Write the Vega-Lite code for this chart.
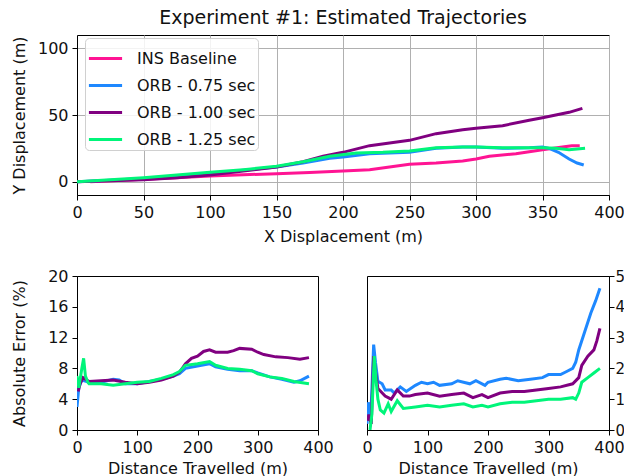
{
  "$schema": "https://vega.github.io/schema/vega-lite/v6.json",
  "padding": {"left": 10, "top": 8, "right": 0, "bottom": 0},
  "background": "white",
  "config": {
    "font": "DejaVu Sans",
    "view": {"stroke": "black", "strokeWidth": 1},
    "axis": {
      "labelFont": "DejaVu Sans", "titleFont": "DejaVu Sans",
      "labelFontSize": 16, "titleFontSize": 16, "titleFontWeight": "normal",
      "labelColor": "#111", "titleColor": "#111", "labelFlush": false, "labelOverlap": false,
      "domainColor": "black", "tickColor": "black", "tickSize": 5, "labelPadding": 4,
      "grid": false
    },
    "title": {"font": "DejaVu Sans", "fontSize": 19, "fontWeight": "normal", "color": "#111"}
  },
  "datasets": {
    "traj": [
      {"s": "INS Baseline", "x": 10, "y": 0}, {"s": "INS Baseline", "x": 30, "y": 0.8}, {"s": "INS Baseline", "x": 50, "y": 1.8}, {"s": "INS Baseline", "x": 75, "y": 3}, {"s": "INS Baseline", "x": 100, "y": 4.3}, {"s": "INS Baseline", "x": 125, "y": 5.2}, {"s": "INS Baseline", "x": 150, "y": 6}, {"s": "INS Baseline", "x": 175, "y": 6.8}, {"s": "INS Baseline", "x": 200, "y": 8}, {"s": "INS Baseline", "x": 220, "y": 9}, {"s": "INS Baseline", "x": 235, "y": 11}, {"s": "INS Baseline", "x": 250, "y": 13}, {"s": "INS Baseline", "x": 270, "y": 14}, {"s": "INS Baseline", "x": 290, "y": 15.5}, {"s": "INS Baseline", "x": 300, "y": 17}, {"s": "INS Baseline", "x": 310, "y": 19}, {"s": "INS Baseline", "x": 330, "y": 21}, {"s": "INS Baseline", "x": 350, "y": 24}, {"s": "INS Baseline", "x": 365, "y": 26}, {"s": "INS Baseline", "x": 372, "y": 27}, {"s": "INS Baseline", "x": 378, "y": 27},
      {"s": "ORB - 0.75 sec", "x": 0, "y": 0}, {"s": "ORB - 0.75 sec", "x": 25, "y": 1}, {"s": "ORB - 0.75 sec", "x": 50, "y": 2.3}, {"s": "ORB - 0.75 sec", "x": 75, "y": 4}, {"s": "ORB - 0.75 sec", "x": 100, "y": 6}, {"s": "ORB - 0.75 sec", "x": 125, "y": 8.5}, {"s": "ORB - 0.75 sec", "x": 150, "y": 11}, {"s": "ORB - 0.75 sec", "x": 170, "y": 14}, {"s": "ORB - 0.75 sec", "x": 190, "y": 17.5}, {"s": "ORB - 0.75 sec", "x": 200, "y": 18.5}, {"s": "ORB - 0.75 sec", "x": 220, "y": 21}, {"s": "ORB - 0.75 sec", "x": 250, "y": 22}, {"s": "ORB - 0.75 sec", "x": 270, "y": 25}, {"s": "ORB - 0.75 sec", "x": 290, "y": 26}, {"s": "ORB - 0.75 sec", "x": 300, "y": 26}, {"s": "ORB - 0.75 sec", "x": 320, "y": 25}, {"s": "ORB - 0.75 sec", "x": 340, "y": 25.5}, {"s": "ORB - 0.75 sec", "x": 350, "y": 26}, {"s": "ORB - 0.75 sec", "x": 355, "y": 25}, {"s": "ORB - 0.75 sec", "x": 362, "y": 22}, {"s": "ORB - 0.75 sec", "x": 370, "y": 17}, {"s": "ORB - 0.75 sec", "x": 376, "y": 14}, {"s": "ORB - 0.75 sec", "x": 381, "y": 12.5},
      {"s": "ORB - 1.00 sec", "x": 0, "y": 0}, {"s": "ORB - 1.00 sec", "x": 25, "y": 0.6}, {"s": "ORB - 1.00 sec", "x": 50, "y": 1.5}, {"s": "ORB - 1.00 sec", "x": 75, "y": 3}, {"s": "ORB - 1.00 sec", "x": 100, "y": 5}, {"s": "ORB - 1.00 sec", "x": 125, "y": 8}, {"s": "ORB - 1.00 sec", "x": 150, "y": 11}, {"s": "ORB - 1.00 sec", "x": 170, "y": 15}, {"s": "ORB - 1.00 sec", "x": 185, "y": 19}, {"s": "ORB - 1.00 sec", "x": 200, "y": 22}, {"s": "ORB - 1.00 sec", "x": 220, "y": 27}, {"s": "ORB - 1.00 sec", "x": 235, "y": 29}, {"s": "ORB - 1.00 sec", "x": 250, "y": 31}, {"s": "ORB - 1.00 sec", "x": 270, "y": 36}, {"s": "ORB - 1.00 sec", "x": 290, "y": 39}, {"s": "ORB - 1.00 sec", "x": 300, "y": 40}, {"s": "ORB - 1.00 sec", "x": 320, "y": 42}, {"s": "ORB - 1.00 sec", "x": 340, "y": 46}, {"s": "ORB - 1.00 sec", "x": 350, "y": 48}, {"s": "ORB - 1.00 sec", "x": 370, "y": 52}, {"s": "ORB - 1.00 sec", "x": 380, "y": 55},
      {"s": "ORB - 1.25 sec", "x": 0, "y": 0}, {"s": "ORB - 1.25 sec", "x": 25, "y": 1.5}, {"s": "ORB - 1.25 sec", "x": 50, "y": 3}, {"s": "ORB - 1.25 sec", "x": 75, "y": 5}, {"s": "ORB - 1.25 sec", "x": 100, "y": 7}, {"s": "ORB - 1.25 sec", "x": 125, "y": 9}, {"s": "ORB - 1.25 sec", "x": 150, "y": 11.5}, {"s": "ORB - 1.25 sec", "x": 170, "y": 15}, {"s": "ORB - 1.25 sec", "x": 190, "y": 19}, {"s": "ORB - 1.25 sec", "x": 210, "y": 21.5}, {"s": "ORB - 1.25 sec", "x": 230, "y": 22}, {"s": "ORB - 1.25 sec", "x": 250, "y": 23}, {"s": "ORB - 1.25 sec", "x": 270, "y": 25.5}, {"s": "ORB - 1.25 sec", "x": 290, "y": 26}, {"s": "ORB - 1.25 sec", "x": 300, "y": 26}, {"s": "ORB - 1.25 sec", "x": 320, "y": 25.5}, {"s": "ORB - 1.25 sec", "x": 350, "y": 25.5}, {"s": "ORB - 1.25 sec", "x": 360, "y": 25}, {"s": "ORB - 1.25 sec", "x": 370, "y": 24}, {"s": "ORB - 1.25 sec", "x": 376, "y": 24.5}, {"s": "ORB - 1.25 sec", "x": 382, "y": 25}
    ],
    "err": [
      {"s": "ORB - 0.75 sec", "d": 0, "e": 3}, {"s": "ORB - 0.75 sec", "d": 3, "e": 5.5}, {"s": "ORB - 0.75 sec", "d": 8, "e": 6.5}, {"s": "ORB - 0.75 sec", "d": 20, "e": 6.2}, {"s": "ORB - 0.75 sec", "d": 40, "e": 6.2}, {"s": "ORB - 0.75 sec", "d": 60, "e": 6.6}, {"s": "ORB - 0.75 sec", "d": 70, "e": 6.5}, {"s": "ORB - 0.75 sec", "d": 80, "e": 6.0}, {"s": "ORB - 0.75 sec", "d": 100, "e": 6.0}, {"s": "ORB - 0.75 sec", "d": 120, "e": 6.3}, {"s": "ORB - 0.75 sec", "d": 140, "e": 6.6}, {"s": "ORB - 0.75 sec", "d": 160, "e": 7.0}, {"s": "ORB - 0.75 sec", "d": 170, "e": 7.3}, {"s": "ORB - 0.75 sec", "d": 180, "e": 8.0}, {"s": "ORB - 0.75 sec", "d": 200, "e": 8.3}, {"s": "ORB - 0.75 sec", "d": 220, "e": 8.6}, {"s": "ORB - 0.75 sec", "d": 230, "e": 8.2}, {"s": "ORB - 0.75 sec", "d": 250, "e": 7.9}, {"s": "ORB - 0.75 sec", "d": 270, "e": 7.7}, {"s": "ORB - 0.75 sec", "d": 290, "e": 7.7}, {"s": "ORB - 0.75 sec", "d": 300, "e": 7.4}, {"s": "ORB - 0.75 sec", "d": 320, "e": 6.9}, {"s": "ORB - 0.75 sec", "d": 340, "e": 6.6}, {"s": "ORB - 0.75 sec", "d": 360, "e": 6.2}, {"s": "ORB - 0.75 sec", "d": 370, "e": 6.4}, {"s": "ORB - 0.75 sec", "d": 385, "e": 7.0},
      {"s": "ORB - 1.00 sec", "d": 2, "e": 5}, {"s": "ORB - 1.00 sec", "d": 5, "e": 6}, {"s": "ORB - 1.00 sec", "d": 10, "e": 6.8}, {"s": "ORB - 1.00 sec", "d": 20, "e": 6.3}, {"s": "ORB - 1.00 sec", "d": 40, "e": 6.4}, {"s": "ORB - 1.00 sec", "d": 60, "e": 6.5}, {"s": "ORB - 1.00 sec", "d": 80, "e": 6.2}, {"s": "ORB - 1.00 sec", "d": 100, "e": 6.0}, {"s": "ORB - 1.00 sec", "d": 120, "e": 6.2}, {"s": "ORB - 1.00 sec", "d": 140, "e": 6.5}, {"s": "ORB - 1.00 sec", "d": 160, "e": 7.0}, {"s": "ORB - 1.00 sec", "d": 170, "e": 7.5}, {"s": "ORB - 1.00 sec", "d": 180, "e": 8.6}, {"s": "ORB - 1.00 sec", "d": 190, "e": 9.3}, {"s": "ORB - 1.00 sec", "d": 200, "e": 9.6}, {"s": "ORB - 1.00 sec", "d": 210, "e": 10.2}, {"s": "ORB - 1.00 sec", "d": 220, "e": 10.4}, {"s": "ORB - 1.00 sec", "d": 230, "e": 10.1}, {"s": "ORB - 1.00 sec", "d": 250, "e": 10.1}, {"s": "ORB - 1.00 sec", "d": 260, "e": 10.3}, {"s": "ORB - 1.00 sec", "d": 270, "e": 10.6}, {"s": "ORB - 1.00 sec", "d": 290, "e": 10.5}, {"s": "ORB - 1.00 sec", "d": 300, "e": 10.1}, {"s": "ORB - 1.00 sec", "d": 310, "e": 9.8}, {"s": "ORB - 1.00 sec", "d": 330, "e": 9.5}, {"s": "ORB - 1.00 sec", "d": 350, "e": 9.4}, {"s": "ORB - 1.00 sec", "d": 370, "e": 9.2}, {"s": "ORB - 1.00 sec", "d": 385, "e": 9.4},
      {"s": "ORB - 1.25 sec", "d": 0, "e": 7}, {"s": "ORB - 1.25 sec", "d": 3, "e": 5.5}, {"s": "ORB - 1.25 sec", "d": 8, "e": 8}, {"s": "ORB - 1.25 sec", "d": 11, "e": 9.3}, {"s": "ORB - 1.25 sec", "d": 14, "e": 7}, {"s": "ORB - 1.25 sec", "d": 18, "e": 6.2}, {"s": "ORB - 1.25 sec", "d": 20, "e": 6.0}, {"s": "ORB - 1.25 sec", "d": 40, "e": 6.0}, {"s": "ORB - 1.25 sec", "d": 60, "e": 5.8}, {"s": "ORB - 1.25 sec", "d": 80, "e": 6.0}, {"s": "ORB - 1.25 sec", "d": 100, "e": 6.2}, {"s": "ORB - 1.25 sec", "d": 120, "e": 6.3}, {"s": "ORB - 1.25 sec", "d": 140, "e": 6.7}, {"s": "ORB - 1.25 sec", "d": 160, "e": 7.2}, {"s": "ORB - 1.25 sec", "d": 170, "e": 7.6}, {"s": "ORB - 1.25 sec", "d": 180, "e": 8.4}, {"s": "ORB - 1.25 sec", "d": 200, "e": 8.6}, {"s": "ORB - 1.25 sec", "d": 220, "e": 8.9}, {"s": "ORB - 1.25 sec", "d": 230, "e": 8.4}, {"s": "ORB - 1.25 sec", "d": 250, "e": 8.0}, {"s": "ORB - 1.25 sec", "d": 270, "e": 7.9}, {"s": "ORB - 1.25 sec", "d": 290, "e": 7.7}, {"s": "ORB - 1.25 sec", "d": 300, "e": 7.3}, {"s": "ORB - 1.25 sec", "d": 320, "e": 6.9}, {"s": "ORB - 1.25 sec", "d": 340, "e": 6.7}, {"s": "ORB - 1.25 sec", "d": 360, "e": 6.3}, {"s": "ORB - 1.25 sec", "d": 385, "e": 6.0}
    ],
    "err2": [
      {"s": "ORB - 0.75 sec", "d": 0, "e": 0.2}, {"s": "ORB - 0.75 sec", "d": 2, "e": 0.9}, {"s": "ORB - 0.75 sec", "d": 6, "e": 0.3}, {"s": "ORB - 0.75 sec", "d": 11, "e": 2.77}, {"s": "ORB - 0.75 sec", "d": 14, "e": 2.2}, {"s": "ORB - 0.75 sec", "d": 18, "e": 1.58}, {"s": "ORB - 0.75 sec", "d": 25, "e": 1.5}, {"s": "ORB - 0.75 sec", "d": 30, "e": 1.3}, {"s": "ORB - 0.75 sec", "d": 40, "e": 1.3}, {"s": "ORB - 0.75 sec", "d": 45, "e": 1.2}, {"s": "ORB - 0.75 sec", "d": 55, "e": 1.4}, {"s": "ORB - 0.75 sec", "d": 65, "e": 1.25}, {"s": "ORB - 0.75 sec", "d": 80, "e": 1.45}, {"s": "ORB - 0.75 sec", "d": 90, "e": 1.55}, {"s": "ORB - 0.75 sec", "d": 100, "e": 1.5}, {"s": "ORB - 0.75 sec", "d": 110, "e": 1.55}, {"s": "ORB - 0.75 sec", "d": 120, "e": 1.45}, {"s": "ORB - 0.75 sec", "d": 140, "e": 1.5}, {"s": "ORB - 0.75 sec", "d": 150, "e": 1.6}, {"s": "ORB - 0.75 sec", "d": 170, "e": 1.5}, {"s": "ORB - 0.75 sec", "d": 180, "e": 1.6}, {"s": "ORB - 0.75 sec", "d": 195, "e": 1.45}, {"s": "ORB - 0.75 sec", "d": 200, "e": 1.55}, {"s": "ORB - 0.75 sec", "d": 220, "e": 1.65}, {"s": "ORB - 0.75 sec", "d": 230, "e": 1.68}, {"s": "ORB - 0.75 sec", "d": 250, "e": 1.6}, {"s": "ORB - 0.75 sec", "d": 270, "e": 1.65}, {"s": "ORB - 0.75 sec", "d": 290, "e": 1.7}, {"s": "ORB - 0.75 sec", "d": 300, "e": 1.8}, {"s": "ORB - 0.75 sec", "d": 320, "e": 1.8}, {"s": "ORB - 0.75 sec", "d": 330, "e": 1.9}, {"s": "ORB - 0.75 sec", "d": 340, "e": 2.0}, {"s": "ORB - 0.75 sec", "d": 345, "e": 2.2}, {"s": "ORB - 0.75 sec", "d": 350, "e": 2.6}, {"s": "ORB - 0.75 sec", "d": 360, "e": 3.2}, {"s": "ORB - 0.75 sec", "d": 370, "e": 3.8}, {"s": "ORB - 0.75 sec", "d": 378, "e": 4.2}, {"s": "ORB - 0.75 sec", "d": 385, "e": 4.6},
      {"s": "ORB - 1.00 sec", "d": 1, "e": 0.3}, {"s": "ORB - 1.00 sec", "d": 3, "e": 0.5}, {"s": "ORB - 1.00 sec", "d": 7, "e": 0.2}, {"s": "ORB - 1.00 sec", "d": 11, "e": 2.4}, {"s": "ORB - 1.00 sec", "d": 14, "e": 1.9}, {"s": "ORB - 1.00 sec", "d": 18, "e": 1.35}, {"s": "ORB - 1.00 sec", "d": 30, "e": 1.1}, {"s": "ORB - 1.00 sec", "d": 40, "e": 1.0}, {"s": "ORB - 1.00 sec", "d": 50, "e": 1.3}, {"s": "ORB - 1.00 sec", "d": 60, "e": 1.1}, {"s": "ORB - 1.00 sec", "d": 70, "e": 1.1}, {"s": "ORB - 1.00 sec", "d": 80, "e": 1.15}, {"s": "ORB - 1.00 sec", "d": 100, "e": 1.2}, {"s": "ORB - 1.00 sec", "d": 120, "e": 1.1}, {"s": "ORB - 1.00 sec", "d": 140, "e": 1.15}, {"s": "ORB - 1.00 sec", "d": 160, "e": 1.2}, {"s": "ORB - 1.00 sec", "d": 175, "e": 1.05}, {"s": "ORB - 1.00 sec", "d": 190, "e": 1.15}, {"s": "ORB - 1.00 sec", "d": 200, "e": 1.05}, {"s": "ORB - 1.00 sec", "d": 220, "e": 1.2}, {"s": "ORB - 1.00 sec", "d": 240, "e": 1.25}, {"s": "ORB - 1.00 sec", "d": 260, "e": 1.25}, {"s": "ORB - 1.00 sec", "d": 280, "e": 1.3}, {"s": "ORB - 1.00 sec", "d": 300, "e": 1.35}, {"s": "ORB - 1.00 sec", "d": 320, "e": 1.4}, {"s": "ORB - 1.00 sec", "d": 340, "e": 1.5}, {"s": "ORB - 1.00 sec", "d": 350, "e": 1.7}, {"s": "ORB - 1.00 sec", "d": 355, "e": 2.1}, {"s": "ORB - 1.00 sec", "d": 365, "e": 2.4}, {"s": "ORB - 1.00 sec", "d": 375, "e": 2.6}, {"s": "ORB - 1.00 sec", "d": 380, "e": 2.9}, {"s": "ORB - 1.00 sec", "d": 385, "e": 3.3},
      {"s": "ORB - 1.25 sec", "d": 5, "e": 0}, {"s": "ORB - 1.25 sec", "d": 8, "e": 0.5}, {"s": "ORB - 1.25 sec", "d": 12, "e": 2.4}, {"s": "ORB - 1.25 sec", "d": 15, "e": 1.6}, {"s": "ORB - 1.25 sec", "d": 18, "e": 1.0}, {"s": "ORB - 1.25 sec", "d": 22, "e": 0.65}, {"s": "ORB - 1.25 sec", "d": 28, "e": 0.55}, {"s": "ORB - 1.25 sec", "d": 35, "e": 0.85}, {"s": "ORB - 1.25 sec", "d": 40, "e": 0.6}, {"s": "ORB - 1.25 sec", "d": 50, "e": 0.95}, {"s": "ORB - 1.25 sec", "d": 60, "e": 0.7}, {"s": "ORB - 1.25 sec", "d": 80, "e": 0.75}, {"s": "ORB - 1.25 sec", "d": 100, "e": 0.8}, {"s": "ORB - 1.25 sec", "d": 120, "e": 0.75}, {"s": "ORB - 1.25 sec", "d": 140, "e": 0.8}, {"s": "ORB - 1.25 sec", "d": 160, "e": 0.85}, {"s": "ORB - 1.25 sec", "d": 175, "e": 0.75}, {"s": "ORB - 1.25 sec", "d": 190, "e": 0.8}, {"s": "ORB - 1.25 sec", "d": 200, "e": 0.75}, {"s": "ORB - 1.25 sec", "d": 220, "e": 0.85}, {"s": "ORB - 1.25 sec", "d": 240, "e": 0.9}, {"s": "ORB - 1.25 sec", "d": 260, "e": 0.9}, {"s": "ORB - 1.25 sec", "d": 280, "e": 0.95}, {"s": "ORB - 1.25 sec", "d": 300, "e": 1.0}, {"s": "ORB - 1.25 sec", "d": 320, "e": 1.0}, {"s": "ORB - 1.25 sec", "d": 340, "e": 1.05}, {"s": "ORB - 1.25 sec", "d": 345, "e": 1.0}, {"s": "ORB - 1.25 sec", "d": 350, "e": 1.2}, {"s": "ORB - 1.25 sec", "d": 355, "e": 1.55}, {"s": "ORB - 1.25 sec", "d": 365, "e": 1.7}, {"s": "ORB - 1.25 sec", "d": 375, "e": 1.85}, {"s": "ORB - 1.25 sec", "d": 385, "e": 2.0}
    ]
  },
  "resolve": {"scale": {"color": "independent"}, "legend": {"color": "independent"}},
  "spacing": 22,
  "vconcat": [
    {
      "width": 532, "height": 160,
      "title": {"text": "Experiment #1: Estimated Trajectories", "offset": 7},
      "data": {"name": "traj"},
      "mark": {"type": "line", "strokeWidth": 3, "clip": true},
      "encoding": {
        "x": {"field": "x", "type": "quantitative", "title": "X Displacement (m)", "scale": {"domain": [0, 400], "nice": false, "zero": false}, "axis": {"values": [0, 50, 100, 150, 200, 250, 300, 350, 400], "grid": true, "gridColor": "#b0b0b0", "gridWidth": 1, "titlePadding": 8}},
        "y": {"field": "y", "type": "quantitative", "title": "Y Displacement (m)", "scale": {"domain": [-10, 110], "nice": false, "zero": false}, "axis": {"values": [0, 50, 100], "grid": true, "gridColor": "#b0b0b0", "gridWidth": 1, "titlePadding": 10}},
        "color": {"field": "s", "type": "nominal", "sort": null, "scale": {"domain": ["INS Baseline", "ORB - 0.75 sec", "ORB - 1.00 sec", "ORB - 1.25 sec"], "range": ["#ff1493", "#1e88ff", "#800080", "#00f57a"]},
          "legend": {"title": null, "orient": "none", "legendX": 8, "legendY": 3, "symbolType": "stroke", "symbolSize": 1100, "symbolStrokeWidth": 3, "labelFontSize": 16, "labelFont": "DejaVu Sans", "labelColor": "#111", "labelOffset": 13, "rowPadding": -4.5, "padding": 2, "fillColor": "rgba(255,255,255,0.85)", "strokeColor": "#d0d0d0", "cornerRadius": 4}}
      }
    },
    {
      "resolve": {"scale": {"color": "independent"}, "legend": {"color": "independent"}},
      "bounds": "flush",
      "spacing": 49,
      "hconcat": [
        {
          "width": 241, "height": 154,
          "data": {"name": "err"},
          "mark": {"type": "line", "strokeWidth": 3, "clip": true},
          "encoding": {
            "x": {"field": "d", "type": "quantitative", "title": "Distance Travelled (m)", "scale": {"domain": [0, 400], "nice": false}, "axis": {"values": [0, 100, 200, 300, 400], "titlePadding": 5}},
            "y": {"field": "e", "type": "quantitative", "title": "Absolute Error (%)", "scale": {"domain": [0, 20], "nice": false}, "axis": {"values": [0, 4, 8, 12, 16, 20], "titlePadding": 20}},
            "color": {"field": "s", "type": "nominal", "sort": null, "scale": {"domain": ["ORB - 0.75 sec", "ORB - 1.00 sec", "ORB - 1.25 sec"], "range": ["#1e88ff", "#800080", "#00f57a"]}, "legend": null}
          }
        },
        {
          "width": 242, "height": 154,
          "data": {"name": "err2"},
          "mark": {"type": "line", "strokeWidth": 3, "clip": true},
          "encoding": {
            "x": {"field": "d", "type": "quantitative", "title": "Distance Travelled (m)", "scale": {"domain": [0, 400], "nice": false}, "axis": {"values": [0, 100, 200, 300, 400], "titlePadding": 5}},
            "y": {"field": "e", "type": "quantitative", "title": null, "scale": {"domain": [0, 5], "nice": false}, "axis": {"orient": "right", "values": [0, 1, 2, 3, 4, 5], "labelPadding": 1, "labelFontSize": 15}},
            "color": {"field": "s", "type": "nominal", "sort": null, "scale": {"domain": ["ORB - 0.75 sec", "ORB - 1.00 sec", "ORB - 1.25 sec"], "range": ["#1e88ff", "#800080", "#00f57a"]}, "legend": null}
          }
        }
      ]
    }
  ]
}
